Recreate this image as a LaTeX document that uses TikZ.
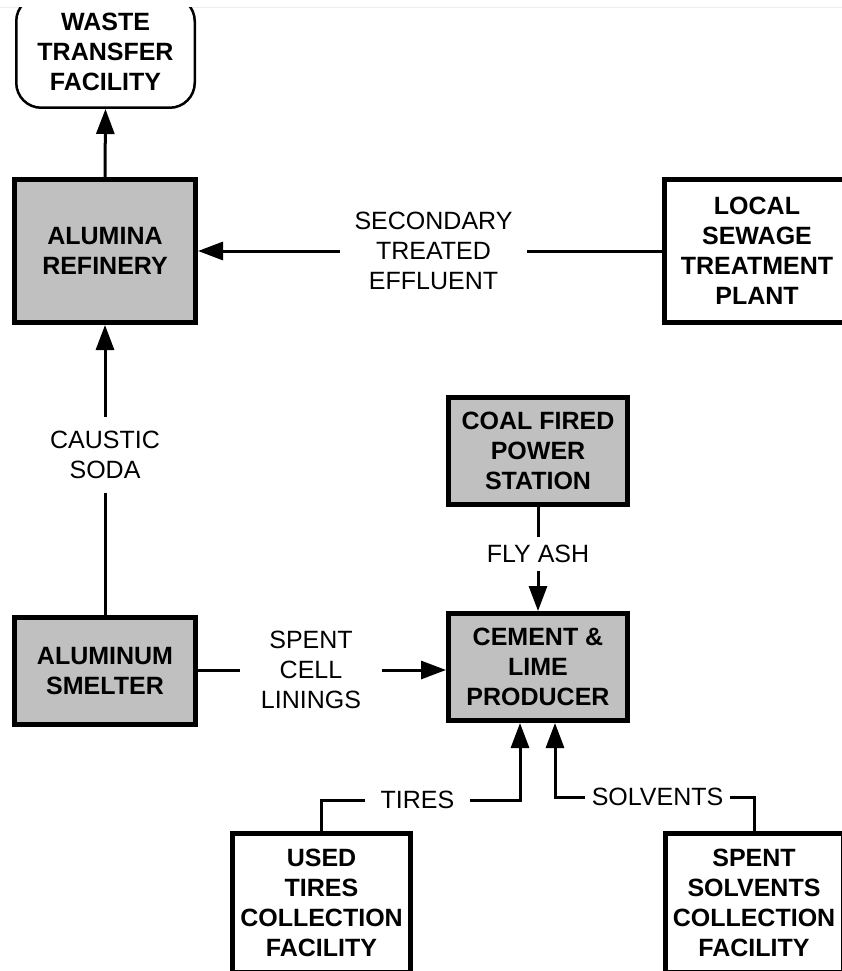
\documentclass[tikz,border=0pt]{standalone}
\usepackage{fontspec}
\setmainfont{Liberation Sans}
\usetikzlibrary{arrows.meta}
\definecolor{boxgray}{HTML}{C0C0C0}
\definecolor{edgegray}{HTML}{EEEEEE}
\begin{document}
\begin{tikzpicture}[x=1pt,y=-1pt,
  box/.style={draw, line width=5pt, fill=white, inner sep=0pt, align=center,
              font=\fontsize{25}{30}\selectfont\bfseries},
  gbox/.style={box, fill=boxgray},
  lbl/.style={inner sep=0pt, align=center, font=\fontsize{25}{30}\selectfont},
  conn/.style={line width=3pt},
  arr/.style={conn, -{Triangle[width=18pt,length=25pt]}}]
\useasboundingbox (0,0) rectangle (842,971);
\draw[edgegray, line width=1pt] (0,7.5) -- (842,7.5);
\begin{scope}
\clip (0,8) rectangle (842,971);
% boxes
\node[box, rounded corners=25pt, line width=2.5pt, minimum width=178.5pt, minimum height=111.5pt] (waste) at (105.5,52) {WASTE\\TRANSFER\\FACILITY};
\node[gbox, minimum width=181pt, minimum height=143pt] (ref) at (105,251) {ALUMINA\\REFINERY};
\node[box, minimum width=185pt, minimum height=143pt] (sew) at (757,251) {LOCAL\\SEWAGE\\TREATMENT\\PLANT};
\node[gbox, minimum width=179pt, minimum height=107pt] (coal) at (538,451) {COAL FIRED\\POWER\\STATION};
\node[gbox, minimum width=181pt, minimum height=107pt] (smelt) at (105,671) {ALUMINUM\\SMELTER};
\node[gbox, minimum width=179pt, minimum height=107pt] (cem) at (538,667) {CEMENT \&\\LIME\\PRODUCER};
\node[box, minimum width=178pt, minimum height=139pt] (tires) at (321.5,903) {USED\\TIRES\\COLLECTION\\FACILITY};
\node[box, minimum width=178pt, minimum height=139pt] (solv) at (754,903) {SPENT\\SOLVENTS\\COLLECTION\\FACILITY};
% labels
\node[lbl, minimum width=187pt] (eff) at (433.5,251) {SECONDARY\\TREATED\\EFFLUENT};
\node[lbl, minimum height=76pt] (caustic) at (105,455) {CAUSTIC\\SODA};
\node[lbl, minimum height=34pt] (fly) at (538,554) {FLY ASH};
\node[lbl, minimum width=142pt] (cell) at (311,670) {SPENT\\CELL\\LININGS};
\node[lbl, minimum width=105pt] (tl) at (417.5,800) {TIRES};
\node[lbl, minimum width=145pt] (sl) at (657.5,797) {SOLVENTS};
% connectors
\draw[arr] (ref.north) -- (waste.south);
\draw[conn] (sew.west) -- (eff.east);
\draw[arr] (eff.west) -- (ref.east);
\draw[conn] (smelt.north) -- (caustic.south);
\draw[arr] (caustic.north) -- (ref.south);
\draw[conn] (coal.south) -- (fly.north);
\draw[arr] (fly.south) -- (cem.north);
\draw[conn] (smelt.east |- cell.west) -- (cell.west);
\draw[arr] (cell.east) -- (cell.east -| cem.west);
\draw[conn] (tires.north) |- (tl.west);
\draw[arr] (tl.east) -| ([xshift=-18pt]cem.south);
\draw[conn] (solv.north) |- (sl.east);
\draw[arr] (sl.west) -| ([xshift=17pt]cem.south);
\end{scope}
\end{tikzpicture}
\end{document}
